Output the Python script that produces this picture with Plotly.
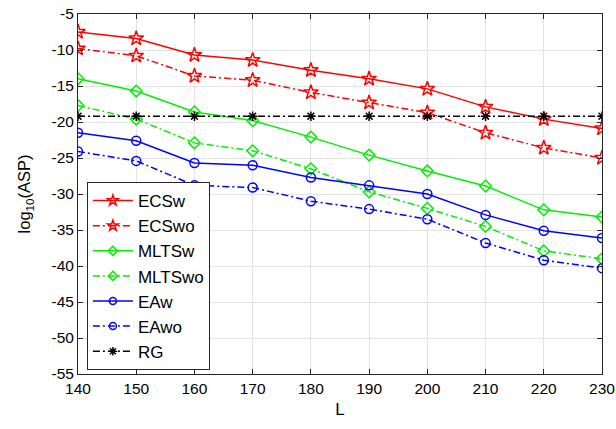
import plotly.graph_objects as go

L = [140, 150, 160, 170, 180, 190, 200, 210, 220, 230]
ECSw = [-7.5, -8.4, -10.7, -11.4, -12.8, -14.0, -15.4, -17.9, -19.6, -20.9]
ECSwo = [-9.8, -10.8, -13.6, -14.2, -15.9, -17.3, -18.7, -21.5, -23.6, -25.0]
MLTSw = [-14.0, -15.7, -18.6, -19.8, -22.1, -24.6, -26.8, -28.9, -32.2, -33.2]
MLTSwo = [-17.7, -19.6, -22.9, -24.0, -26.5, -29.7, -32.0, -34.5, -37.9, -39.0]
EAw = [-21.5, -22.6, -25.7, -26.0, -27.7, -28.8, -30.0, -32.9, -35.1, -36.1]
EAwo = [-24.1, -25.4, -28.8, -29.1, -31.0, -32.1, -33.5, -36.8, -39.2, -40.3]
RG = [-19.2] * 10

yticks = [-55, -50, -45, -40, -35, -30, -25, -20, -15, -10, -5]
ytick_labels = [str(v) for v in yticks]
xtick_labels = [str(v) for v in L]

DASHDOT = "7px,3px,2px,3px"
series = [
    ("ECSw", ECSw, "#ff0000", "solid", "star-open", 11, 8),
    ("ECSwo", ECSwo, "#ff0000", DASHDOT, "star-open", 11, 8),
    ("MLTSw", MLTSw, "#00ee00", "solid", "diamond-open", 9, 7),
    ("MLTSwo", MLTSwo, "#00ee00", DASHDOT, "diamond-open", 9, 7),
    ("EAw", EAw, "#0000ff", "solid", "circle-open", 9, 7),
    ("EAwo", EAwo, "#0000ff", DASHDOT, "circle-open", 9, 7),
    ("RG", RG, "#000000", DASHDOT, "asterisk-open", 8, 7),
]

fig = go.Figure()
for name, vals, col, dash, sym, sz, lsz in series:
    fig.add_trace(go.Scatter(
        x=L, y=vals, name=name, mode="lines+markers", showlegend=False,
        legendgroup="all",
        line=dict(color=col, width=1.5, dash=dash),
        marker=dict(symbol=sym, size=sz, color=col, line=dict(color=col, width=1.5)),
    ))
for name, vals, col, dash, sym, sz, lsz in series:
    fig.add_trace(go.Scatter(
        x=[None], y=[None], name=name, mode="lines+markers", showlegend=True,
        legendgroup="all",
        line=dict(color=col, width=1.5, dash=dash),
        marker=dict(symbol=sym, size=lsz, color=col, line=dict(color=col, width=1.5)),
    ))

axis_common = dict(
    showline=True, linecolor="#262626", linewidth=1, mirror="ticks",
    ticks="inside", ticklen=5, tickcolor="#262626", automargin=False,
    showgrid=True, gridcolor="#e3e3e3", gridwidth=1, zeroline=False,
    tickfont=dict(family="Liberation Sans, Arial, sans-serif", size=15.5, color="black"),
)

fig.update_layout(
    width=616, height=429, autosize=False,
    margin=dict(l=78, r=14, t=14, b=55, pad=0),
    paper_bgcolor="white", plot_bgcolor="white",
    font=dict(family="Liberation Sans, Arial, sans-serif", color="black"),
    xaxis=dict(range=[140, 230], tickvals=L, ticktext=xtick_labels,
               title=dict(text="L", font=dict(size=17), standoff=7), **axis_common),
    yaxis=dict(range=[-55, -5], tickvals=yticks, ticktext=ytick_labels,
               title=dict(text="log<sub>10</sub>(ASP)", font=dict(size=16.5), standoff=16), **axis_common),
    legend=dict(
        x=0.017, y=0.011, xanchor="left", yanchor="bottom",
        bgcolor="white", bordercolor="#262626", borderwidth=1,
        font=dict(size=17, color="black"), tracegroupgap=0,
        itemwidth=40,
    ),
    showlegend=True,
)

fig.write_html(
    "out.html",
    config={"displayModeBar": False, "responsive": False},
    post_script="document.body.style.margin='0';document.body.style.padding='0';",
)
